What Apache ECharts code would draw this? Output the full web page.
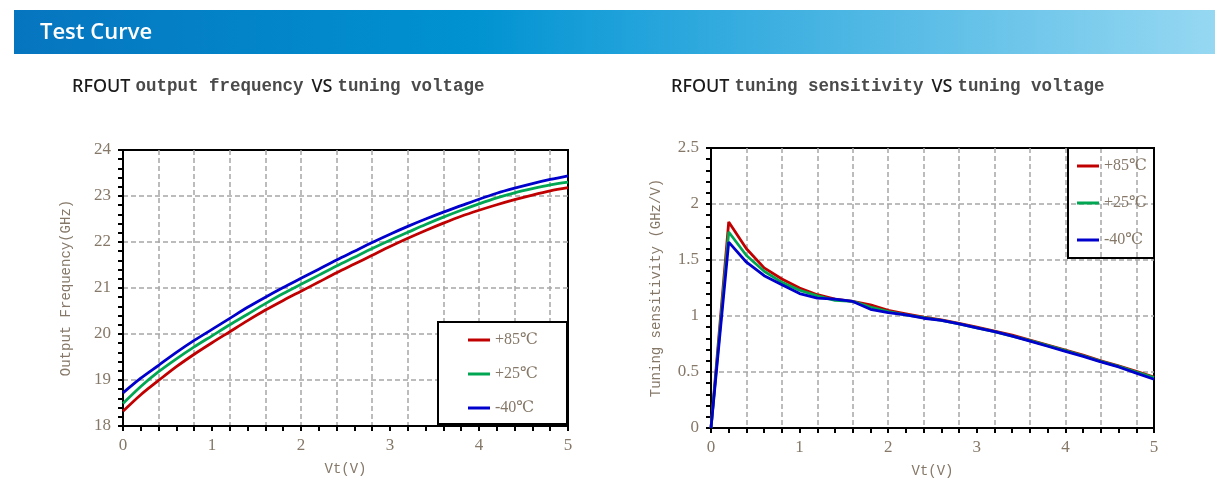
<!DOCTYPE html>
<html>
<head>
<meta charset="utf-8">
<script src="https://cdn.jsdelivr.net/npm/echarts@6/dist/echarts.min.js"></script>
<style>html,body{margin:0;padding:0;background:#fff;}#c{width:1229px;height:487px;}</style>
</head>
<body>
<div id="c"></div>
<script>
// ---- data ----
const seriesNames = ['+85℃', '+25℃', '-40℃'];
const seriesColors = ['#c00000', '#00a651', '#0000cc'];
const vt = [0,0.2,0.4,0.6,0.8,1.0,1.2,1.4,1.6,1.8,2.0,2.2,2.4,2.6,2.8,3.0,3.2,3.4,3.6,3.8,4.0,4.2,4.4,4.6,4.8,5.0];
// Output frequency (GHz)
const freq85 = [18.32,18.68,18.99,19.29,19.56,19.81,20.05,20.29,20.52,20.73,20.93,21.13,21.33,21.52,21.71,21.90,22.08,22.25,22.41,22.56,22.69,22.81,22.92,23.02,23.11,23.18];
const freq25 = [18.49,18.86,19.18,19.46,19.72,19.96,20.20,20.43,20.66,20.88,21.08,21.28,21.48,21.67,21.86,22.04,22.21,22.38,22.54,22.69,22.83,22.96,23.07,23.16,23.24,23.30];
const freqM40 = [18.72,19.04,19.32,19.60,19.86,20.10,20.34,20.58,20.80,21.01,21.21,21.41,21.61,21.80,21.99,22.17,22.34,22.50,22.65,22.79,22.93,23.06,23.17,23.27,23.36,23.44];
// Tuning sensitivity (GHz/V)
const sens85 = [0,1.84,1.60,1.43,1.33,1.25,1.19,1.15,1.13,1.10,1.05,1.02,0.99,0.965,0.935,0.90,0.865,0.83,0.785,0.74,0.695,0.65,0.60,0.555,0.505,0.455];
const sens25 = [0,1.75,1.54,1.40,1.30,1.23,1.18,1.14,1.13,1.08,1.04,1.01,0.985,0.96,0.93,0.895,0.86,0.82,0.78,0.735,0.69,0.645,0.595,0.55,0.50,0.45];
const sensM40 = [0,1.66,1.48,1.36,1.28,1.20,1.16,1.15,1.13,1.06,1.03,1.01,0.98,0.96,0.93,0.895,0.86,0.82,0.775,0.73,0.685,0.64,0.59,0.545,0.49,0.435];
const freqTicks = {min: 18, max: 24, interval: 1};
const sensTicks = {min: 0, max: 2.5, interval: 0.5};
const xTicks = {min: 0, max: 5, tick: 0.2, grid: 0.4};

const pair = (ys) => vt.map((v, i) => [v, ys[i]]);
const freqData = [freq85, freq25, freqM40];
const sensData = [sens85, sens25, sensM40];

const TAN = '#857868';
const MONO = '"Liberation Mono", "DejaVu Sans Mono", monospace';
const SERIF = '"Liberation Serif", "DejaVu Serif", serif';
const GRIDLINE = {show: true, showMinLine: false, showMaxLine: false, lineStyle: {color: '#a6a6a6', width: 1.5, type: [5, 3]}};

function xAxes(gi) {
  return [
    { gridIndex: gi, type: 'value', min: xTicks.min, max: xTicks.max, interval: xTicks.tick, position: 'bottom',
      name: 'Vt(V)', nameLocation: 'middle', nameGap: 36,
      nameTextStyle: {fontFamily: MONO, fontSize: 14, color: TAN},
      axisLine: {onZero: false, lineStyle: {color: '#000', width: 2}},
      axisTick: {show: true, inside: false, length: 5, lineStyle: {color: '#000', width: 2}},
      axisLabel: {margin: 11, fontFamily: SERIF, fontSize: 17, color: TAN,
        formatter: v => Math.abs(v - Math.round(v)) < 1e-6 ? String(Math.round(v)) : ''},
      splitLine: {show: false} },
    { gridIndex: gi, type: 'value', min: xTicks.min, max: xTicks.max, interval: xTicks.grid, position: 'bottom',
      axisLine: {show: false}, axisTick: {show: false}, axisLabel: {show: false},
      splitLine: GRIDLINE }
  ];
}
function yAxis(gi, t, name, gap) {
  return { gridIndex: gi, type: 'value', min: t.min, max: t.max, interval: t.interval,
    name: name, nameLocation: 'middle', nameGap: gap,
    nameTextStyle: {fontFamily: MONO, fontSize: 14, color: TAN},
    axisLine: {show: true, onZero: false, lineStyle: {color: '#000', width: 2}},
    axisTick: {show: true, inside: false, length: 5, lineStyle: {color: '#000', width: 2}},
    minorTick: {show: true, splitNumber: 5, length: 5, lineStyle: {color: '#000', width: 2}},
    axisLabel: {margin: 12, fontFamily: SERIF, fontSize: 17, color: TAN},
    splitLine: GRIDLINE };
}

const series = [];
seriesNames.forEach((n, i) => {
  series.push({name: n, type: 'line', xAxisIndex: 0, yAxisIndex: 0, data: pair(freqData[i]),
    smooth: 0.3, showSymbol: false, lineStyle: {color: seriesColors[i], width: 2.8}, itemStyle: {color: seriesColors[i]}});
});
seriesNames.forEach((n, i) => {
  series.push({name: n, type: 'line', xAxisIndex: 2, yAxisIndex: 1, data: pair(sensData[i]),
    smooth: false, showSymbol: false, lineStyle: {color: seriesColors[i], width: 2.8}, itemStyle: {color: seriesColors[i]}});
});

const titleRich = {
  a: {fontFamily: '"Noto Sans", "Open Sans", sans-serif', fontSize: 18, color: '#1a1a1a', fontWeight: 500},
  b: {fontFamily: MONO, fontSize: 17.5, color: '#4a4a4a', padding: [0, 8, 0, 5]}
};

const chart = echarts.init(document.getElementById('c'));
chart.setOption({
  animation: false,
  backgroundColor: '#fff',
  graphic: [
    {type: 'rect', shape: {x: 14, y: 10, width: 1201, height: 44}, z: 0,
      style: {fill: new echarts.graphic.LinearGradient(0, 0, 1, 0, [
        {offset: 0, color: '#0675bf'}, {offset: 0.38, color: '#0092d1'},
        {offset: 0.52, color: '#22a3db'}, {offset: 1, color: '#96d8f2'}])}},
    {type: 'text', left: 40, top: 22, z: 1,
      style: {text: 'Test Curve', fill: '#fff', font: '600 22px "Open Sans", "Noto Sans", sans-serif'}}
  ],
  title: [
    {left: 72, top: 78, padding: 0, text: '{a|RFOUT}{b|output frequency}{a|VS}{b|tuning voltage}', textStyle: {rich: titleRich}},
    {left: 671, top: 78, padding: 0, text: '{a|RFOUT}{b|tuning sensitivity}{a|VS}{b|tuning voltage}', textStyle: {rich: titleRich}}
  ],
  grid: [
    {left: 123, top: 150, width: 445, height: 276, show: true, borderColor: '#000', borderWidth: 2, backgroundColor: 'transparent'},
    {left: 711, top: 148, width: 443, height: 280, show: true, borderColor: '#000', borderWidth: 2, backgroundColor: 'transparent'}
  ],
  xAxis: [...xAxes(0), ...xAxes(1)],
  yAxis: [yAxis(0, freqTicks, 'Output Frequency(GHz)', 50), yAxis(1, sensTicks, 'Tuning sensitivity (GHz/V)', 48)],
  legend: [
    {data: seriesNames, orient: 'vertical', left: 438, top: 322, icon: 'rect', itemWidth: 22, itemHeight: 3, itemGap: 18,
      padding: [10, 22, 8, 30], borderColor: '#000', borderWidth: 2, backgroundColor: '#fff', selectedMode: false,
      textStyle: {fontFamily: SERIF, fontSize: 16, color: TAN, width: 50, height: 16, lineHeight: 16}},
    {data: seriesNames, orient: 'vertical', left: 1068, top: 148, icon: 'rect', itemWidth: 22, itemHeight: 3, itemGap: 21,
      padding: [10, 5, 10, 9], borderColor: '#000', borderWidth: 2, backgroundColor: 'transparent', selectedMode: false,
      textStyle: {fontFamily: SERIF, fontSize: 16, color: TAN, width: 45, height: 16, lineHeight: 16}}
  ],
  series: series
});
</script>
</body>
</html>
